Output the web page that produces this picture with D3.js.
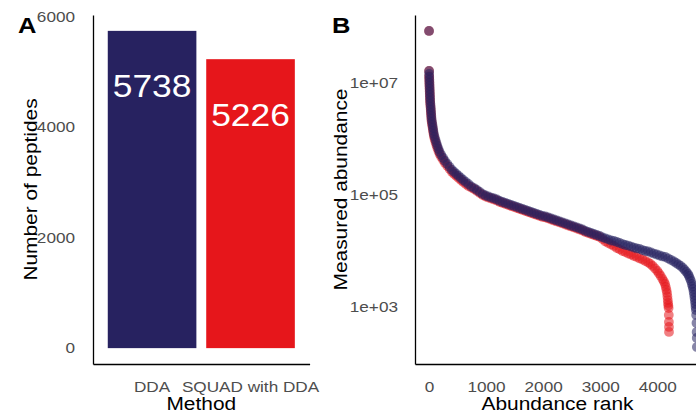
<!DOCTYPE html>
<html>
<head>
<meta charset="utf-8">
<script src="https://cdn.jsdelivr.net/npm/d3@7"></script>
<style>
body { margin: 0; background: #fff; }
text { font-family: "Liberation Sans", Arial, Helvetica, sans-serif; }
</style>
</head>
<body>
<div id="chart"></div>
<script>
// panel A
var methods = ["DDA", "SQUAD with DDA"];
var peptideCounts = [5738, 5226];
var methodColors = ["#272260", "#e6161b"];
var countTicks = [0, 2000, 4000, 6000];

// panel B
var rankTicks = [0, 1000, 2000, 3000, 4000];
var abundanceTicks = [1e3, 1e5, 1e7];

// [rank, measured abundance]
var ddaCurve = [
  [1, 8.49e7], [2, 1.64e7], [3, 1.45e7], [4, 1.28e7], [6, 1.13e7], [8, 1.0e7],
  [10, 8.84e6], [12, 7.82e6], [14, 6.91e6], [16, 6.11e6], [18, 5.40e6], [21, 4.77e6],
  [25, 4.22e6], [29, 3.73e6], [33, 3.30e6], [37, 2.91e6], [41, 2.58e6], [45, 2.28e6],
  [52, 2.01e6], [61, 1.78e6], [69, 1.57e6], [77, 1.39e6], [85, 1.23e6], [98, 1.09e6],
  [114, 9.6e5], [130, 8.49e5], [147, 7.5e5], [166, 6.63e5], [186, 5.86e5], [215, 5.18e5],
  [248, 4.58e5], [280, 4.05e5], [321, 3.58e5], [362, 3.16e5], [403, 2.80e5], [440, 2.58e5],
  [480, 2.37e5], [520, 2.19e5], [560, 2.01e5], [600, 1.85e5], [645, 1.71e5], [690, 1.57e5],
  [740, 1.42e5], [790, 1.33e5], [840, 1.23e5], [890, 1.13e5], [940, 1.04e5], [990, 9.8e4],
  [1040, 9.4e4], [1090, 9.0e4], [1140, 8.65e4], [1190, 8.3e4], [1240, 7.82e4], [1290, 7.5e4],
  [1340, 7.2e4], [1390, 6.91e4], [1440, 6.63e4], [1490, 6.37e4], [1540, 6.11e4], [1590, 5.86e4],
  [1640, 5.62e4], [1690, 5.40e4], [1740, 5.18e4], [1790, 4.97e4], [1840, 4.77e4], [1890, 4.58e4],
  [1940, 4.40e4], [1990, 4.22e4], [2040, 4.13e4], [2090, 3.97e4], [2140, 3.80e4], [2190, 3.65e4],
  [2240, 3.51e4], [2290, 3.37e4], [2340, 3.23e4], [2390, 3.10e4], [2440, 2.97e4], [2490, 2.85e4],
  [2540, 2.74e4], [2590, 2.63e4], [2640, 2.52e4], [2690, 2.42e4], [2740, 2.28e4], [2790, 2.19e4],
  [2840, 2.10e4], [2890, 2.01e4], [2940, 1.93e4], [2990, 1.85e4], [3040, 1.75e4], [3090, 1.68e4],
  [3140, 1.61e4], [3190, 1.54e4], [3240, 1.51e4], [3290, 1.45e4], [3340, 1.39e4], [3390, 1.33e4],
  [3440, 1.28e4], [3490, 1.25e4], [3540, 1.20e4], [3590, 1.15e4], [3640, 1.11e4], [3690, 1.09e4],
  [3740, 1.04e4], [3790, 1.0e4], [3840, 9.8e3], [3890, 9.4e3], [3940, 9.0e3], [3990, 8.65e3],
  [4040, 8.3e3], [4090, 8.0e3], [4140, 7.82e3], [4190, 7.35e3], [4240, 6.91e3], [4290, 6.5e3],
  [4330, 6.11e3], [4370, 5.75e3], [4410, 5.40e3], [4450, 4.97e3], [4480, 4.58e3], [4510, 4.22e3],
  [4537, 3.88e3], [4555, 3.58e3], [4572, 3.23e3], [4590, 2.91e3], [4605, 2.58e3], [4618, 2.33e3],
  [4628, 2.10e3], [4637, 1.85e3], [4645, 1.64e3], [4652, 1.45e3], [4659, 1.28e3], [4665, 1.13e3],
  [4670, 1.0e3], [4675, 884], [4681, 720], [4686, 518], [4689, 358], [4691, 280], [4693, 193]
];

var squadCurve = [
  [1, 8.49e7], [2, 1.64e7], [3, 1.33e7], [4, 1.18e7], [6, 1.04e7], [8, 9.21e6],
  [10, 8.15e6], [12, 7.20e6], [14, 6.37e6], [16, 5.62e6], [18, 4.97e6], [21, 4.40e6],
  [25, 3.89e6], [29, 3.43e6], [33, 3.04e6], [37, 2.68e6], [41, 2.37e6], [45, 2.10e6],
  [52, 1.85e6], [61, 1.64e6], [69, 1.45e6], [77, 1.28e6], [85, 1.13e6], [98, 1.0e6],
  [114, 8.84e5], [130, 7.82e5], [147, 6.91e5], [166, 6.11e5], [186, 5.40e5], [215, 4.77e5],
  [248, 4.22e5], [280, 3.73e5], [321, 3.30e5], [362, 2.91e5], [403, 2.58e5], [440, 2.37e5],
  [480, 2.19e5], [520, 2.01e5], [560, 1.85e5], [600, 1.71e5], [645, 1.57e5], [690, 1.45e5],
  [740, 1.36e5], [790, 1.28e5], [840, 1.18e5], [890, 1.08e5], [940, 1.0e5], [990, 9.4e4],
  [1040, 9.0e4], [1090, 8.65e4], [1140, 8.3e4], [1190, 7.97e4], [1240, 7.5e4], [1290, 7.2e4],
  [1340, 6.91e4], [1390, 6.63e4], [1440, 6.37e4], [1490, 6.11e4], [1540, 5.86e4], [1590, 5.62e4],
  [1640, 5.40e4], [1690, 5.18e4], [1740, 4.97e4], [1790, 4.77e4], [1840, 4.58e4], [1890, 4.40e4],
  [1940, 4.22e4], [1990, 4.05e4], [2040, 3.97e4], [2090, 3.81e4], [2140, 3.65e4], [2190, 3.50e4],
  [2240, 3.37e4], [2290, 3.23e4], [2340, 3.10e4], [2390, 2.97e4], [2440, 2.85e4], [2490, 2.74e4],
  [2540, 2.63e4], [2590, 2.52e4], [2640, 2.42e4], [2690, 2.32e4], [2740, 2.19e4], [2790, 2.10e4],
  [2840, 2.01e4], [2890, 1.93e4], [2940, 1.85e4], [2990, 1.78e4], [3040, 1.63e4], [3090, 1.48e4],
  [3140, 1.39e4], [3190, 1.31e4], [3240, 1.23e4], [3290, 1.13e4], [3340, 1.07e4], [3390, 1.0e4],
  [3440, 9.6e3], [3490, 9.0e3], [3540, 8.65e3], [3590, 8.15e3], [3640, 7.82e3], [3690, 7.35e3],
  [3740, 7.05e3], [3790, 6.63e3], [3840, 6.24e3], [3880, 5.86e3], [3920, 5.40e3], [3960, 4.87e3],
  [4000, 4.40e3], [4030, 3.97e3], [4060, 3.58e3], [4090, 3.16e3], [4115, 2.86e3], [4135, 2.58e3],
  [4148, 2.28e3], [4160, 2.01e3], [4170, 1.78e3], [4177, 1.54e3], [4183, 1.33e3], [4188, 1.18e3],
  [4193, 1.06e3], [4198, 960], [4201, 720], [4203, 540], [4204, 440], [4205, 358]
];

var W = 696, H = 413;
var sx = 1.16; // glyphs in the source figure are a little wide

var svg = d3.select("#chart").append("svg")
    .attr("width", W)
    .attr("height", H)
    .style("background", "#fff");

function wide(sel) {
  sel.attr("transform", function() {
    var t = d3.select(this).attr("transform");
    return (t ? t + " " : "") + "scale(" + sx + ",1)";
  });
}

function styleAxis(g) {
  g.select(".domain").attr("stroke", "#000").attr("stroke-width", 1.3);
  g.selectAll(".tick line").remove();
  g.selectAll(".tick text")
      .attr("fill", "#4d4d4d")
      .style("font-size", "14.8px")
      .call(wide);
}

BarPlot();
RankPlot();

function BarPlot() {
  var x = d3.scaleBand().domain(methods).range([93, 309.6]).paddingInner(0.1).paddingOuter(0.15);
  var y = d3.scaleLinear().domain([-287, 6025]).range([364, 15]);

  var g = svg.append("g");

  g.selectAll("rect.bar")
      .data(methods)
    .enter().append("rect")
      .attr("class", "bar")
      .attr("x", function(d) { return x(d); })
      .attr("width", x.bandwidth())
      .attr("y", function(d, i) { return y(peptideCounts[i]); })
      .attr("height", function(d, i) { return y(0) - y(peptideCounts[i]); })
      .attr("fill", function(d, i) { return methodColors[i]; });

  g.selectAll("text.count")
      .data(methods)
    .enter().append("text")
      .attr("class", "count")
      .attr("transform", function(d, i) {
        return "translate(" + (x(d) + x.bandwidth() / 2) + "," + (y(peptideCounts[i]) + 66.5) + ")";
      })
      .attr("text-anchor", "middle")
      .attr("fill", "#fff")
      .style("font-size", "30.5px")
      .text(function(d, i) { return peptideCounts[i]; })
      .call(wide);

  g.append("g")
      .attr("transform", "translate(93,0)")
      .call(d3.axisLeft(y).tickValues(countTicks).tickSizeOuter(0).tickPadding(9.5)
        .tickFormat(d3.format("d")))
      .call(styleAxis);

  g.append("g")
      .attr("transform", "translate(0,364)")
      .call(d3.axisBottom(x).tickSizeOuter(0).tickPadding(12))
      .call(styleAxis);

  g.append("text")
      .attr("transform", "translate(201.3,410)")
      .attr("text-anchor", "middle")
      .style("font-size", "18px")
      .text("Method")
      .call(wide);

  g.append("text")
      .attr("transform", "translate(37,189.5) rotate(-90)")
      .attr("text-anchor", "middle")
      .style("font-size", "18px")
      .text("Number of peptides")
      .call(wide);

  g.append("text")
      .attr("transform", "translate(18,33)")
      .style("font-size", "22px")
      .style("font-weight", "bold")
      .text("A")
      .call(wide);
}

function RankPlot() {
  var x = d3.scaleLinear().domain([-245, 4748]).range([415, 700]);
  var y = d3.scaleLog().domain([95.9, 1.637e8]).range([364, 15]);

  var g = svg.append("g");

  g.append("defs").append("clipPath")
      .attr("id", "clipB")
    .append("rect")
      .attr("x", 415).attr("y", 15)
      .attr("width", 285).attr("height", 349);

  var pts = g.append("g").attr("clip-path", "url(#clipB)");

  [[squadCurve, methodColors[1]], [ddaCurve, methodColors[0]]].forEach(function(s) {
    pts.append("g").selectAll("circle")
        .data(s[0])
      .enter().append("circle")
        .attr("cx", function(d) { return x(d[0]); })
        .attr("cy", function(d) { return y(d[1]); })
        .attr("r", 4.9)
        .attr("fill", s[1])
        .attr("fill-opacity", 0.55);
  });

  g.append("g")
      .attr("transform", "translate(415,0)")
      .call(d3.axisLeft(y).tickValues(abundanceTicks).tickSizeOuter(0).tickPadding(8.7)
        .tickFormat(function(d) { return "1e+0" + Math.round(Math.log10(d)); }))
      .call(styleAxis);

  g.append("g")
      .attr("transform", "translate(0,364)")
      .call(d3.axisBottom(x).tickValues(rankTicks).tickSizeOuter(0).tickPadding(12)
        .tickFormat(d3.format("d")))
      .call(styleAxis);

  g.append("text")
      .attr("transform", "translate(557.5,410)")
      .attr("text-anchor", "middle")
      .style("font-size", "18px")
      .text("Abundance rank")
      .call(wide);

  g.append("text")
      .attr("transform", "translate(347,189.5) rotate(-90)")
      .attr("text-anchor", "middle")
      .style("font-size", "18px")
      .text("Measured abundance")
      .call(wide);

  g.append("text")
      .attr("transform", "translate(332,33)")
      .style("font-size", "22px")
      .style("font-weight", "bold")
      .text("B")
      .call(wide);
}
</script>
</body>
</html>
